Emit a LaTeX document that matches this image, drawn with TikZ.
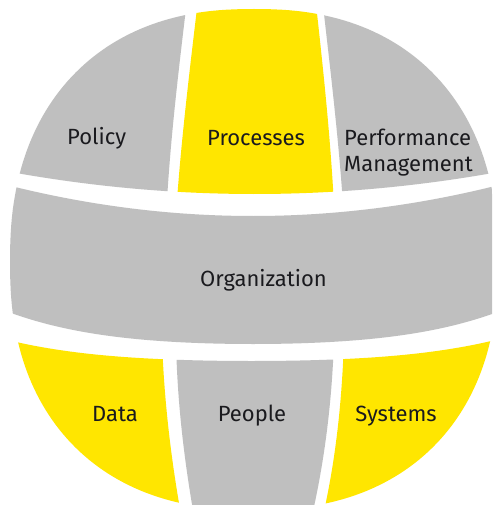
\documentclass[tikz,border=0pt]{standalone}
\usepackage{fontspec}
\setmainfont{Fira Sans}
\definecolor{eygray}{RGB}{191,191,191}
\definecolor{eyyellow}{RGB}{255,230,0}
\definecolor{eytext}{RGB}{26,26,30}
\def\globepath{plot[domain=0:90,samples=60] ({254+244*(cos(\x)+0.00001)^0.8696},{262-253*(sin(\x)+0.00001)^0.8696})
 -- plot[domain=90:0,samples=60] ({254-244*(cos(\x)+0.00001)^0.8696},{262-253*(sin(\x)+0.00001)^0.8696})
 -- plot[domain=0:90,samples=60] ({254-244*(cos(\x)+0.00001)^0.8696},{262+248*(sin(\x)+0.00001)^0.8696})
 -- plot[domain=90:0,samples=60] ({254+244*(cos(\x)+0.00001)^0.8696},{262+248*(sin(\x)+0.00001)^0.8696}) -- cycle}
\begin{document}
\begin{tikzpicture}[x=1pt,y=-1pt,
  lbl/.style={font=\fontsize{22}{26}\selectfont, text=eytext, inner sep=0pt, anchor=base}]
\fill[white] (0,0) rectangle (492,505);
\useasboundingbox (0,0) rectangle (492,505);
\clip (0,0) rectangle (492,505);
\begin{scope}
  \clip \globepath;
  % top cap
  \begin{scope}
    \clip plot[domain=-20:520,samples=80] (\x,{174+20*(1-((\x-254.5)/232.5)*((\x-254.5)/232.5))}) -- (520,-20) -- (-20,-20) -- cycle;
    \fill[eygray] (-20,-20) -- (187,-20) -- (187,0) .. controls (179,67) and (171,133) .. (167,200) -- (167,220) -- (-20,220) -- cycle;
    \fill[eyyellow] (198,-20) -- (198,0) .. controls (190,67) and (182,133) .. (177,200) -- (177,220) -- (333.7,220) -- (333.7,200) .. controls (330,133) and (323,67) .. (315.5,0) -- (315.5,-20) -- cycle;
    \fill[eygray] (322.4,-20) -- (322.4,0) .. controls (330,67) and (338,133) .. (342.7,200) -- (342.7,220) -- (520,220) -- (520,-20) -- cycle;
  \end{scope}
  % band
  \fill[eygray] plot[domain=-20:520,samples=80] (\x,{187+29*(1-((\x-253)/238)*((\x-253)/238))})
    -- plot[domain=520:-20,samples=80] (\x,{314+30*(1-0.6*((\x-253)/239)*((\x-253)/239)-0.4*((\x-253)/239)*((\x-253)/239)*((\x-253)/239)*((\x-253)/239))}) -- cycle;
  % bottom cap
  \begin{scope}
    \clip plot[domain=-20:520,samples=80] (\x,{341.5+19.5*(1-0.6*((\x-251.5)/237.5)*((\x-251.5)/237.5)-0.4*((\x-251.5)/237.5)*((\x-251.5)/237.5)*((\x-251.5)/237.5)*((\x-251.5)/237.5))}) -- (520,540) -- (-20,540) -- cycle;
    \fill[eyyellow] (-20,330) -- (162,330) -- (162,340) .. controls (164,400) and (171,460) .. (182,520) -- (182,540) -- (-20,540) -- cycle;
    \fill[eygray] (176,330) -- (176,340) .. controls (177,400) and (184,460) .. (194.7,520) -- (194.7,540) -- (311,540) -- (311,520) .. controls (325,460) and (332,400) .. (334,340) -- (334,330) -- cycle;
    \fill[eyyellow] (344,330) -- (344,340) .. controls (342,400) and (336,460) .. (322,520) -- (322,540) -- (520,540) -- (520,330) -- cycle;
  \end{scope}
\end{scope}
\node[lbl] (policy) at (96.7,145) {Policy};
\node[lbl] (processes) at (256,145.7) {Processes};
\node[lbl, align=left, anchor=base west] (perf) at (344,171.7) {Performance\\Management};
\node[lbl] (org) at (263.5,286.5) {Organization};
\node[lbl] (data) at (115,421) {Data};
\node[lbl] (people) at (252,421.5) {People};
\node[lbl] (systems) at (396,421) {Systems};
\end{tikzpicture}
\end{document}
